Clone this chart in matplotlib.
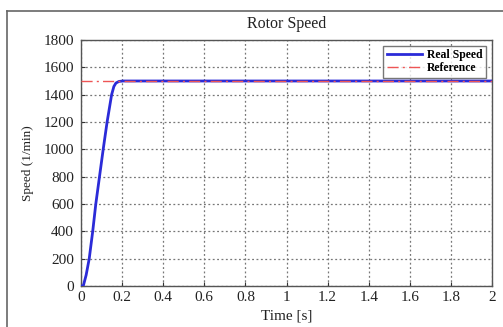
import matplotlib
matplotlib.use("Agg")
import matplotlib.pyplot as plt
from matplotlib.lines import Line2D

time_s = [0, 0.011, 0.025, 0.04, 0.057, 0.072, 0.09, 0.108, 0.127, 0.149, 0.16, 0.17, 0.185, 0.205, 2.0]
speed = [0, 0, 80, 200, 400, 600, 800, 1000, 1200, 1400, 1460, 1485, 1497, 1500, 1500]
ref_time = [0, 2.0]
ref_speed = [1500, 1500]
xticks = [0, 0.2, 0.4, 0.6, 0.8, 1, 1.2, 1.4, 1.6, 1.8, 2]
xticklabels = ["0", "0.2", "0.4", "0.6", "0.8", "1", "1.2", "1.4", "1.6", "1.8", "2"]
yticks = [0, 200, 400, 600, 800, 1000, 1200, 1400, 1600, 1800]

plt.rcParams['font.family'] = ['Liberation Serif', 'DejaVu Serif']

fig = plt.figure(figsize=(5.03, 3.27), dpi=100)
fig.patch.set_facecolor('white')
# outer frame (top and left)
fig.add_artist(Line2D([7/503, 1.0], [1-11/327, 1-11/327], color='#666666', lw=1.2, transform=fig.transFigure))
fig.add_artist(Line2D([7/503, 7/503], [0, 1-11/327], color='#666666', lw=1.2, transform=fig.transFigure))

ax = fig.add_axes([81/503, 1-286/327, (492-81)/503, (286-40)/327])
ax.plot(time_s, speed, color='#2b2bd8', lw=2.0, label='Real Speed', zorder=3)
ax.plot(ref_time, ref_speed, color='#ee5555', lw=1.0, ls=(0, (8, 3, 1.5, 3)), label='Reference', zorder=4)

ax.set_xlim(0, 2)
ax.set_ylim(0, 1800)
ax.set_xticks(xticks)
ax.set_xticklabels(xticklabels)
ax.set_yticks(yticks)
ax.tick_params(direction='in', length=3, labelsize=11, colors='#333333', labelcolor='#222222')
ax.tick_params(axis='y', pad=5)
ax.grid(True, ls=(0, (1.5, 2)), color='#777777', lw=0.9)
for s in ax.spines.values():
    s.set_color('#555555')
    s.set_linewidth(1.0)

ax.set_title('Rotor Speed', fontsize=11.5, pad=9, color='#222222')
ax.set_xlabel('Time [s]', fontsize=11, color='#222222', labelpad=4)
ax.set_ylabel('Speed (1/min)', fontsize=9.5, color='#222222', labelpad=7)

leg = ax.legend(loc='upper right', prop={'weight': 'bold', 'size': 8.5}, frameon=True, fancybox=False,
                edgecolor='#555555', handlelength=3.0, borderpad=0.3, labelspacing=0.05,
                borderaxespad=0.5, handletextpad=0.4)
leg.get_frame().set_linewidth(1.0)

fig.savefig('out.png', dpi=100)
